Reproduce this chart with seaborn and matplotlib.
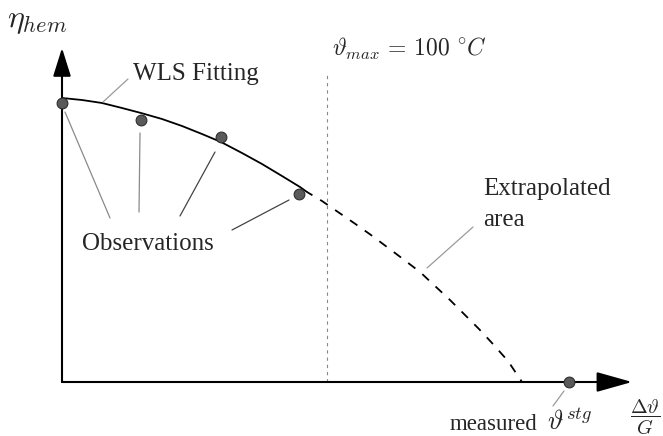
import numpy as np
import pandas as pd
import matplotlib
matplotlib.use("Agg")
import matplotlib.pyplot as plt
import seaborn as sns

# ---- data (unitless schematic coordinates) ----
obs_x = [0.00, 0.79, 1.59, 2.37]
obs_y = [2.79, 2.62, 2.45, 1.88]

fit_x = [0.00, 0.20, 0.40, 0.60, 0.79, 1.00, 1.20, 1.40, 1.59, 1.80, 2.00, 2.20, 2.38, 2.45]
fit_y = [2.84, 2.82, 2.79, 2.74, 2.69, 2.63, 2.56, 2.48, 2.40, 2.29, 2.18, 2.06, 1.95, 1.90]

extrap_x = [2.45, 2.60, 2.76, 2.92, 3.09, 3.25, 3.41, 3.58, 3.73, 3.88, 4.02, 4.17, 4.30, 4.46, 4.60]
extrap_y = [1.90, 1.81, 1.70, 1.59, 1.47, 1.35, 1.23, 1.10, 0.96, 0.82, 0.68, 0.53, 0.39, 0.21, 0.00]

measured_x = [5.07]
measured_y = [0.00]

theta_max_x = [2.65]

sns.set_theme(style="white")
plt.rcParams["font.family"] = ["Liberation Serif", "DejaVu Serif"]
plt.rcParams["mathtext.fontset"] = "cm"

fig = plt.figure(figsize=(6.63, 4.36), dpi=100)
ax = fig.add_axes([0, 0, 1, 1])
ax.set_xlim(-0.62, 6.01)
ax.set_ylim(-0.54, 3.82)
ax.axis("off")

# axes with arrows
ax.annotate("", xy=(5.70, 0), xytext=(0, 0),
            arrowprops=dict(arrowstyle="-|>,head_length=2.2,head_width=0.62",
                            lw=1.5, color="black", shrinkA=0, shrinkB=0,
                            mutation_scale=10))
ax.annotate("", xy=(0, 3.34), xytext=(0, 0),
            arrowprops=dict(arrowstyle="-|>,head_length=1.75,head_width=0.55",
                            lw=1.5, color="black", shrinkA=0, shrinkB=0,
                            mutation_scale=10))

# vertical dotted line at theta_max
ax.vlines(theta_max_x, 0, 3.07, colors="#888888", lw=0.8, linestyles=(0, (3, 3.5)))

# fitted curve and extrapolation
fit_df = pd.DataFrame({"x": fit_x, "y": fit_y})
ext_df = pd.DataFrame({"x": extrap_x, "y": extrap_y})
sns.lineplot(data=fit_df, x="x", y="y", sort=False, estimator=None,
             color="black", lw=1.3, ax=ax)
sns.lineplot(data=ext_df, x="x", y="y", sort=False, estimator=None,
             color="black", lw=1.3, ax=ax, linestyle=(1.5, (5, 5)))

# observations
obs_df = pd.DataFrame({"x": obs_x + measured_x, "y": obs_y + measured_y})
sns.scatterplot(data=obs_df, x="x", y="y", s=60, color="#5a5a5a",
                edgecolor="#2e2e2e", linewidth=0.8, zorder=5, ax=ax)
ax.set_xlabel("")
ax.set_ylabel("")

# leader lines
leaders = [
    ((0.41, 2.80), (0.66, 3.03), "#9a9a9a"),
    ((0.03, 2.70), (0.48, 1.64), "#8a8a8a"),
    ((0.78, 2.49), (0.77, 1.70), "#8a8a8a"),
    ((1.53, 2.30), (1.18, 1.66), "#444444"),
    ((2.27, 1.82), (1.70, 1.52), "#444444"),
    ((4.11, 1.55), (3.65, 1.14), "#9a9a9a"),
    ((5.02, -0.09), (4.91, -0.24), "#9a9a9a"),
]
for (x0, y0), (x1, y1), c in leaders:
    ax.plot([x0, x1], [y0, y1], color=c, lw=0.9)

# texts
ax.text(-0.55, 3.55, r"$\eta_{hem}$", fontsize=23, ha="left", va="baseline")
ax.text(0.71, 3.02, "WLS Fitting", fontsize=18, ha="left", va="baseline")
ax.text(2.70, 3.26, r"$\vartheta_{max}\,=\,100\ ^{\circ}C$", fontsize=17,
        ha="left", va="baseline")
ax.text(0.20, 1.32, "Observations", fontsize=18, ha="left", va="baseline")
ax.text(4.21, 1.87, "Extrapolated", fontsize=18, ha="left", va="baseline")
ax.text(4.21, 1.56, "area", fontsize=18, ha="left", va="baseline")
ax.text(3.88, -0.475, "measured", fontsize=16.5, ha="left", va="baseline")
ax.text(4.85, -0.475, r"$\vartheta^{stg}$", fontsize=19, ha="left", va="baseline")
ax.text(5.675, -0.355, r"$\dfrac{\Delta\vartheta}{G}$", fontsize=14.5, ha="left",
        va="center")

fig.savefig("out.png", dpi=100)
